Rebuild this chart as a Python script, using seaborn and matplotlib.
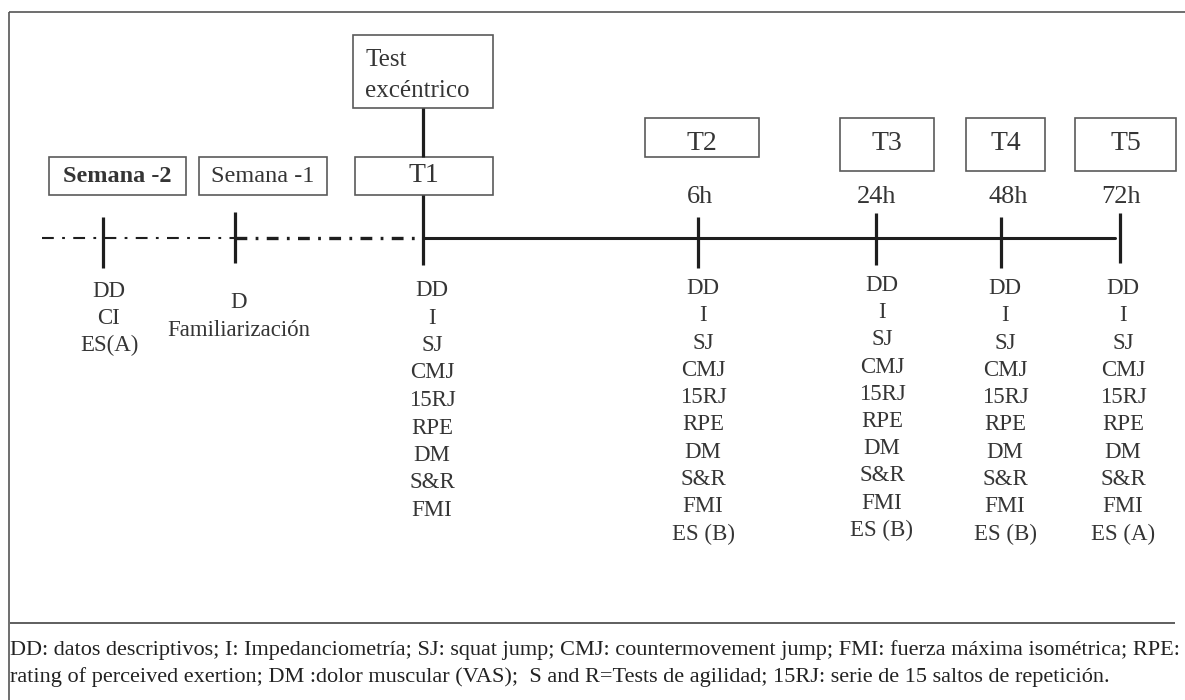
import matplotlib
matplotlib.use("Agg")
import matplotlib.pyplot as plt
import seaborn as sns
import pandas as pd
from matplotlib.patches import Rectangle

# ---------------- data ----------------
phases = ["Semana -2", "Semana -1", "T1", "T2", "T3", "T4", "T5"]
hours = ["", "", "", "6h", "24h", "48h", "72h"]
test_label = "Test\nexcéntrico"
measures_sem2 = ["DD", "CI", "ES(A)"]
measures_sem1 = ["D", "Familiarización"]
measures_common = ["DD", "I", "SJ", "CMJ", "15RJ", "RPE", "DM", "S&R", "FMI"]
measures = [
    measures_sem2,
    measures_sem1,
    measures_common,
    measures_common + ["ES (B)"],
    measures_common + ["ES (B)"],
    measures_common + ["ES (B)"],
    measures_common + ["ES (A)"],
]
footnote = ("DD: datos descriptivos; I: Impedanciometría; SJ: squat jump; CMJ: countermovement jump; "
            "FMI: fuerza máxima isométrica; RPE:\nrating of perceived exertion; DM :dolor muscular (VAS);  "
            "S and R=Tests de agilidad; 15RJ: serie de 15 saltos de repetición.")

# ---------------- layout (pixel coordinates) ----------------
W, H = 1185, 700
tick_x = [103, 235, 423, 698, 876, 1001, 1120]
tick_y = [(217, 268), (212, 263), (195, 265), (217, 268), (213, 265), (217, 268), (213, 263)]
col_x = [109, 239, 432, 703, 882, 1005, 1123]
col_base = [297, 308, 296, 294, 291, 294, 294]
col_step = [27.0, 28.0, 27.5, 27.3, 27.2, 27.3, 27.3]
boxes = [(49, 186, 157, 195), (199, 327, 157, 195), (355, 493, 157, 195),
         (645, 759, 118, 157), (840, 934, 118, 171), (966, 1045, 118, 171),
         (1075, 1176, 118, 171)]
box_text_y = [176, 176, 176, 143, 144, 144, 144]
hour_x = [0, 0, 0, 700, 877, 1008, 1121]
line_y = 238

sns.set_theme(style="white")
plt.rcParams["font.family"] = ["Liberation Serif", "DejaVu Serif"]
plt.rcParams["lines.scale_dashes"] = False

TXT = "#353535"
LN = "#1e1e1e"
BOX = "#5a5a5a"

fig = plt.figure(figsize=(W / 100, H / 100), dpi=100)
ax = fig.add_axes([0, 0, 1, 1])
ax.set_xlim(0, W)
ax.set_ylim(H, 0)
ax.axis("off")

# outer frame
ax.plot([9, 9], [12, H], color="#555555", lw=1.2, solid_capstyle="butt")
ax.plot([9, W], [12, 12], color="#555555", lw=1.2, solid_capstyle="butt")

# timeline: dash-dot before T1, solid after
ax.plot([42, tick_x[1]], [line_y, line_y], color=LN, lw=1.5,
        dashes=(8.5, 6.0, 2.0, 6.0), dash_capstyle="butt")
ax.plot([tick_x[1], tick_x[2]], [line_y, line_y], color=LN, lw=2.4,
        dashes=(8.5, 6.0, 2.0, 6.0), dash_capstyle="butt")
solid = pd.DataFrame({"x": [tick_x[2], 1115], "y": [line_y, line_y]})
sns.lineplot(data=solid, x="x", y="y", ax=ax, color=LN, lw=2.2, legend=False)

# ticks
for x, (y0, y1) in zip(tick_x, tick_y):
    ax.plot([x, x], [y0, y1], color=LN, lw=2.3, solid_capstyle="butt")
# connector T1 box to test box
ax.plot([tick_x[2], tick_x[2]], [108, 157], color=LN, lw=2.3, solid_capstyle="butt")

# boxes
for (x0, x1, y0, y1), lab, ty in zip(boxes, phases, box_text_y):
    ax.add_patch(Rectangle((x0, y0), x1 - x0, y1 - y0, fill=False, ec=BOX, lw=1.2))
    bold = lab == "Semana -2"
    fs = 20 if lab.startswith("T") else 17.5
    ax.text((x0 + x1) / 2, ty, lab, ha="center", va="center", fontsize=fs,
            color=TXT, fontweight="bold" if bold else "normal")

# test excentrico box
ax.add_patch(Rectangle((353, 35), 140, 73, fill=False, ec=BOX, lw=1.2))
tl = test_label.split("\n")
ax.text(365, 66, tl[0], ha="left", va="baseline", fontsize=18, color=TXT)
ax.text(365, 97, tl[1], ha="left", va="baseline", fontsize=18, color=TXT)

# hour labels
for hx, h in zip(hour_x, hours):
    if h:
        ax.text(hx, 203, h, ha="center", va="baseline", fontsize=19, color=TXT)

# measure columns
for cx, base, step, items in zip(col_x, col_base, col_step, measures):
    for i, m in enumerate(items):
        ax.text(cx, base + i * step, m, ha="center", va="baseline", fontsize=16.5, color=TXT)

# separator and footnote
ax.plot([10, 1175], [623, 623], color="#333333", lw=1.1, solid_capstyle="butt")
fl = footnote.split("\n")
ax.text(10, 655, fl[0], ha="left", va="baseline", fontsize=16, color="#222222")
ax.text(10, 682, fl[1], ha="left", va="baseline", fontsize=16, color="#222222")

fig.savefig("out.png", dpi=100, facecolor="white")
